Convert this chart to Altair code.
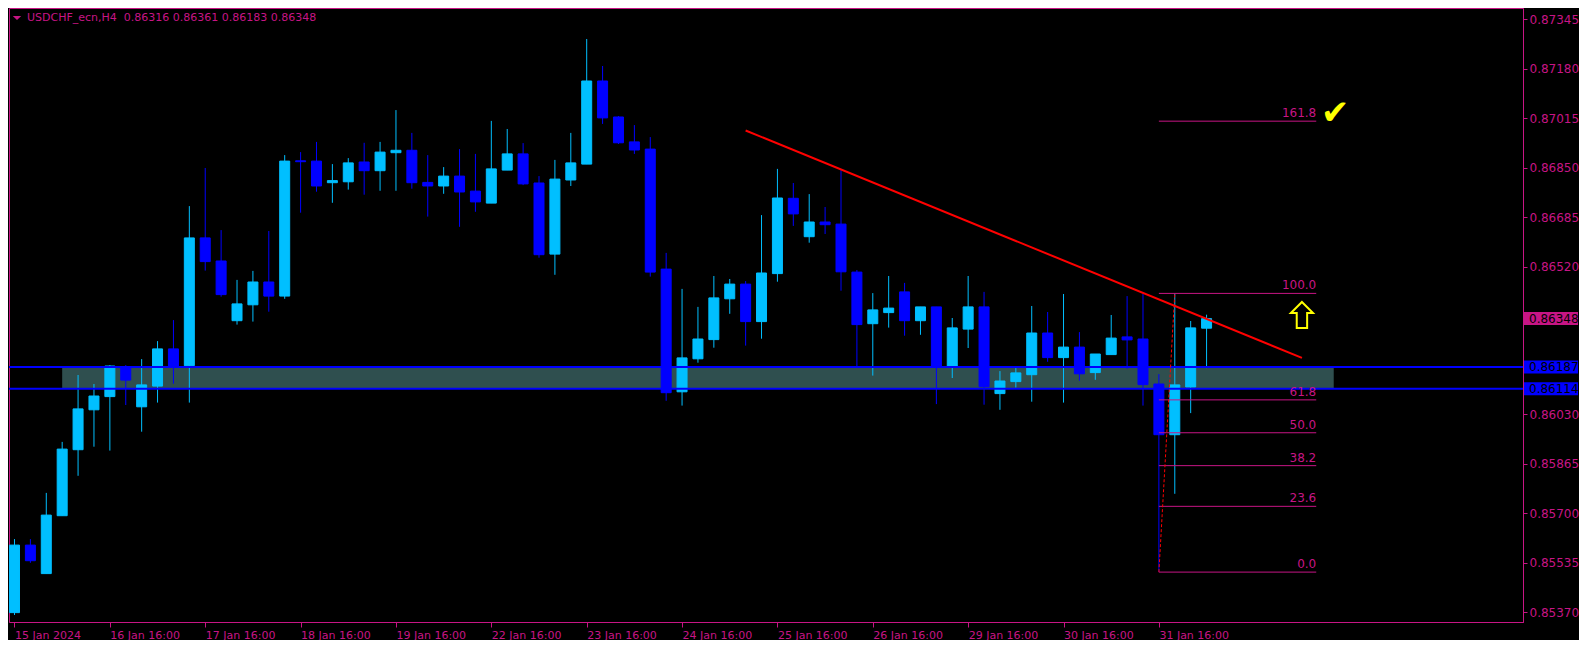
import altair as alt
import pandas as pd

# ---------------- data ----------------
opens = [0.85368, 0.85593, 0.85498, 0.85691, 0.85911, 0.86044, 0.86088, 0.86188, 0.86054, 0.86123,
         0.86247, 0.86191, 0.86617, 0.86540, 0.86341, 0.86394, 0.86470, 0.86423, 0.86874, 0.86873,
         0.86801, 0.86804, 0.86870, 0.86841, 0.86901, 0.86909, 0.86802, 0.86790, 0.86823, 0.86773,
         0.86733, 0.86843, 0.86897, 0.86800, 0.86563, 0.86810, 0.86863, 0.87140, 0.87020, 0.86937,
         0.86913, 0.86513, 0.86104, 0.86214, 0.86278, 0.86414, 0.86463, 0.86338, 0.86498, 0.86749,
         0.86621, 0.86670, 0.86663, 0.86503, 0.86331, 0.86368, 0.86437, 0.86341, 0.86387, 0.86190,
         0.86313, 0.86387, 0.86098, 0.86138, 0.86161, 0.86300, 0.86218, 0.86253, 0.86168, 0.86228,
         0.86287, 0.86280, 0.86130, 0.85961, 0.86120, 0.86316]
highs = [0.85613, 0.85613, 0.85767, 0.85937, 0.86160, 0.86130, 0.86193, 0.86193, 0.86213, 0.86273,
         0.86343, 0.86723, 0.86850, 0.86643, 0.86477, 0.86507, 0.86640, 0.86893, 0.86903, 0.86937,
         0.86863, 0.86883, 0.86934, 0.86937, 0.87043, 0.86967, 0.86893, 0.86853, 0.86913, 0.86897,
         0.87007, 0.86980, 0.86933, 0.86823, 0.86877, 0.86967, 0.87280, 0.87190, 0.87023, 0.86993,
         0.86953, 0.86567, 0.86447, 0.86387, 0.86490, 0.86480, 0.86473, 0.86693, 0.86847, 0.86800,
         0.86763, 0.86720, 0.86843, 0.86510, 0.86433, 0.86490, 0.86467, 0.86387, 0.86387, 0.86350,
         0.86490, 0.86437, 0.86173, 0.86183, 0.86390, 0.86370, 0.86430, 0.86303, 0.86230, 0.86360,
         0.86423, 0.86430, 0.86163, 0.86432, 0.86340, 0.86361]
lows = [0.85360, 0.85534, 0.85498, 0.85691, 0.85824, 0.85921, 0.85908, 0.86060, 0.85971, 0.86068,
        0.86131, 0.86068, 0.86508, 0.86421, 0.86328, 0.86338, 0.86371, 0.86414, 0.86701, 0.86771,
        0.86734, 0.86778, 0.86761, 0.86774, 0.86774, 0.86781, 0.86688, 0.86764, 0.86654, 0.86704,
        0.86733, 0.86843, 0.86793, 0.86551, 0.86494, 0.86790, 0.86863, 0.86997, 0.86930, 0.86897,
        0.86488, 0.86074, 0.86058, 0.86201, 0.86251, 0.86364, 0.86258, 0.86281, 0.86471, 0.86657,
        0.86601, 0.86630, 0.86441, 0.86188, 0.86158, 0.86318, 0.86291, 0.86294, 0.86063, 0.86150,
        0.86250, 0.86061, 0.86044, 0.86118, 0.86071, 0.86204, 0.86068, 0.86141, 0.86144, 0.86228,
        0.86181, 0.86058, 0.85503, 0.85764, 0.86033, 0.86183]
closes = [0.85593, 0.85541, 0.85693, 0.85913, 0.86047, 0.86090, 0.86190, 0.86143, 0.86127, 0.86247,
          0.86188, 0.86617, 0.86538, 0.86428, 0.86397, 0.86470, 0.86423, 0.86873, 0.86871, 0.86790,
          0.86808, 0.86867, 0.86841, 0.86903, 0.86909, 0.86801, 0.86790, 0.86823, 0.86770, 0.86737,
          0.86847, 0.86897, 0.86797, 0.86561, 0.86813, 0.86867, 0.87140, 0.87017, 0.86934, 0.86910,
          0.86503, 0.86101, 0.86217, 0.86280, 0.86417, 0.86463, 0.86338, 0.86500, 0.86750, 0.86697,
          0.86670, 0.86661, 0.86504, 0.86328, 0.86377, 0.86383, 0.86341, 0.86387, 0.86188, 0.86317,
          0.86387, 0.86121, 0.86140, 0.86167, 0.86300, 0.86218, 0.86253, 0.86164, 0.86230, 0.86283,
          0.86277, 0.86128, 0.85961, 0.86127, 0.86317, 0.86348]

x_tick_index = [0, 6, 12, 18, 24, 30, 36, 42, 48, 54, 60, 66, 72]
x_tick_labels = ["15 Jan 2024", "16 Jan 16:00", "17 Jan 16:00", "18 Jan 16:00", "19 Jan 16:00",
                 "22 Jan 16:00", "23 Jan 16:00", "24 Jan 16:00", "25 Jan 16:00", "26 Jan 16:00",
                 "29 Jan 16:00", "30 Jan 16:00", "31 Jan 16:00"]
y_tick_values = [0.87345, 0.87180, 0.87015, 0.86850, 0.86685, 0.86520,
                 0.86030, 0.85865, 0.85700, 0.85535, 0.85370]

support_levels = [0.86187, 0.86114]
zone_index = [3, 83]
last_price = 0.86348
trend_index = [46, 81]
trend_price = [0.86975, 0.86217]
fib_index = [72, 73]
fib_price = [0.85503, 0.86432]
fib_levels = [0.0, 23.6, 38.2, 50.0, 61.8, 100.0, 161.8]
fib_end_index = 81.9
arrow_index, arrow_price = 81.0, 0.86360
check_index, check_price = 83.1, 0.87030
symbol_text = "USDCHF_ecn,H4\u00a0\u00a00.86316 0.86361 0.86183 0.86348"

# ---------------- styling ----------------
MAG = "#C71585"
BULL = "#00BFFF"
BEAR = "#0000FF"
FONT = "DejaVu Sans"
W, H = 1514, 614

xscale = alt.Scale(domain=[-0.03125, -0.03125 + W / 16], nice=False, zero=False)
yscale = alt.Scale(domain=[0.853367, 0.873833], nice=False, zero=False)

label_expr = "[" + ",".join("'%s'" % s for s in x_tick_labels) + "][round(datum.value/6)]"
xaxis = alt.Axis(values=x_tick_index, labelExpr=label_expr, labelAlign="left", tickSize=5,
                 labelPadding=2, labelFlush=False, labelOverlap=False, title=None, grid=False,
                 labelFontSize=11)
yaxis = alt.Axis(orient="right", values=y_tick_values, format=".5f", tickSize=4, labelPadding=2,
                 labelFlush=False, labelOverlap=False, title=None, grid=False, labelFontSize=12)


def X(field):
    return alt.X(field, type="quantitative", scale=xscale, axis=xaxis)


def Y(field):
    return alt.Y(field, type="quantitative", scale=yscale, axis=yaxis)


candles = pd.DataFrame({"i": list(range(len(opens))), "o": opens, "h": highs, "l": lows, "c": closes})
candles["dir"] = ["up" if c >= o else "down" for o, c in zip(opens, closes)]
dir_scale = alt.Scale(domain=["up", "down"], range=[BULL, BEAR])

base = alt.Chart(candles)
wicks = base.mark_rule(strokeWidth=1, clip=True).encode(
    x=X("i"), y=Y("l"), y2="h",
    color=alt.Color("dir:N", scale=dir_scale, legend=None))
bodies = base.mark_bar(size=10, strokeWidth=1, clip=True).encode(
    x=X("i"), y=Y("o"), y2="c",
    color=alt.Color("dir:N", scale=dir_scale, legend=None),
    stroke=alt.Stroke("dir:N", scale=dir_scale, legend=None))

zone = alt.Chart(pd.DataFrame({"x1": [zone_index[0]], "x2": [zone_index[1]],
                               "y1": [support_levels[0]], "y2": [support_levels[1]]})).mark_rect(
    color="#2F4F4F", clip=True).encode(x=X("x1"), x2="x2", y=Y("y1"), y2="y2")

sup_df = pd.DataFrame({"p": support_levels})
sup_lines = alt.Chart(sup_df).mark_rule(color=BEAR, strokeWidth=2).encode(y=Y("p"))

trend = alt.Chart(pd.DataFrame({"x1": [trend_index[0]], "x2": [trend_index[1]],
                                "y1": [trend_price[0]], "y2": [trend_price[1]]})).mark_rule(
    color="#FF0000", strokeWidth=2).encode(x=X("x1"), x2="x2", y=Y("y1"), y2="y2")

fib_diag = alt.Chart(pd.DataFrame({"x1": [fib_index[0]], "x2": [fib_index[1]],
                                   "y1": [fib_price[0]], "y2": [fib_price[1]]})).mark_rule(
    color="#FF0000", strokeWidth=1, strokeDash=[3, 2]).encode(x=X("x1"), x2="x2", y=Y("y1"), y2="y2")

fib_df = pd.DataFrame({"lv": fib_levels})
fib_df["p"] = [fib_price[0] + lv / 100.0 * (fib_price[1] - fib_price[0]) for lv in fib_levels]
fib_df["x1"] = fib_index[0]
fib_df["x2"] = fib_end_index
fib_df["t"] = ["%.1f" % lv for lv in fib_levels]
fib_lines = alt.Chart(fib_df).mark_rule(color=MAG, strokeWidth=1).encode(
    x=X("x1"), x2="x2", y=Y("p"))
fib_text = alt.Chart(fib_df).mark_text(align="right", baseline="bottom", dy=-1, color=MAG,
                                       font=FONT, fontSize=12).encode(
    x=X("x2"), y=Y("p"), text="t:N")

arrow_path = "M0,-1 L0.85,-0.15 L0.4,-0.15 L0.4,1 L-0.4,1 L-0.4,-0.15 L-0.85,-0.15 Z"
arrow = alt.Chart(pd.DataFrame({"x": [arrow_index], "p": [arrow_price]})).mark_point(
    shape=arrow_path, size=676, filled=False, stroke="#FFFF00", strokeWidth=2, opacity=1).encode(
    x=X("x"), y=Y("p"))

check = alt.Chart(pd.DataFrame({"x": [check_index], "p": [check_price]})).mark_text(
    text="✔", font=FONT, fontSize=34, color="#FFFF00", baseline="middle", align="center").encode(
    x=X("x"), y=Y("p"))

# price boxes on the right axis
box_path = "M-1,-0.24 L1,-0.24 L1,0.24 L-1,0.24 Z"
last_df = pd.DataFrame({"p": [last_price], "t": ["%.5f" % last_price]})
sup_box_df = pd.DataFrame({"p": support_levels, "t": ["%.5f" % v for v in support_levels]})
last_box = alt.Chart(last_df).mark_point(shape=box_path, size=2916, filled=True, opacity=1,
                                         strokeWidth=0, color=MAG).encode(
    x=alt.value(W + 28), y=Y("p"))
sup_box = alt.Chart(sup_box_df).mark_point(shape=box_path, size=2916, filled=True, opacity=1,
                                           strokeWidth=0, color=BEAR).encode(
    x=alt.value(W + 28), y=Y("p"))
last_text = alt.Chart(last_df).mark_text(align="left", baseline="middle", color="#000000",
                                         font=FONT, fontSize=12).encode(
    x=alt.value(W + 6), y=Y("p"), text="t:N")
sup_text = alt.Chart(sup_box_df).mark_text(align="left", baseline="middle", color="#000000",
                                           font=FONT, fontSize=12).encode(
    x=alt.value(W + 6), y=Y("p"), text="t:N")

# header
hdr = pd.DataFrame({"t": [symbol_text]})
header = alt.Chart(hdr).mark_text(align="left", baseline="middle", color=MAG, font=FONT,
                                  fontSize=11).encode(x=alt.value(18), y=alt.value(10), text="t:N")
tri = alt.Chart(hdr).mark_point(shape="M-1,-0.5 L1,-0.5 L0,0.5 Z", size=72, filled=True,
                                color=MAG, opacity=1).encode(x=alt.value(8), y=alt.value(10))

chart = alt.layer(
    zone, wicks, bodies, sup_lines, trend, fib_lines, fib_diag, fib_text, arrow, check,
    last_box, sup_box, last_text, sup_text, header, tri
).properties(
    width=W, height=H, padding={"left": 0, "top": 0, "right": 0, "bottom": 0}
).configure(background="#000000").configure_view(
    stroke=MAG, strokeWidth=1, fill="#000000"
).configure_axis(
    domainColor=MAG, tickColor=MAG, labelColor=MAG, labelFont=FONT
)

chart.save("out.html", embed_options={"renderer": "svg", "actions": False})
